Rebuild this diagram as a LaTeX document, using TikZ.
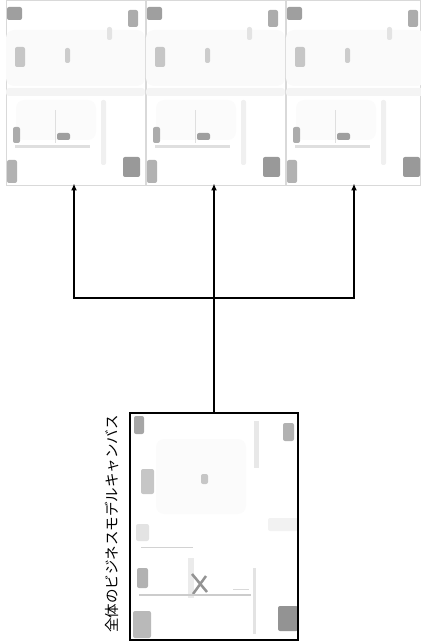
\documentclass[tikz,border=0pt]{standalone}
\usepackage{fontspec}
\newfontfamily\cjk{Noto Sans CJK JP}
\usetikzlibrary{arrows.meta}

\tikzset{
  thumb/.style={draw=gray!30, line width=0.6pt, minimum width=139pt, minimum height=185pt, inner sep=0pt, outer sep=0pt},
  whole/.style={draw=black, line width=2.4pt, minimum width=168pt, minimum height=227pt, inner sep=0pt, outer sep=0pt},
  link/.style={draw=black, line width=2.2pt},
  linkarrow/.style={link, -{Latex[length=7pt,width=6pt]}, shorten >=-1.5pt},
  blot/.style={rounded corners=2pt},
  % one small sheet of the canvas, drawn from its top-left corner
  sheet/.pic={
    \fill[gray!4, rounded corners=8pt] (0,30) rectangle (139,86);
    \fill[gray!9, rounded corners=3pt] (0,88) rectangle (139,96);
    \fill[gray!12, blot] (95,100) rectangle (100,165);
    \fill[gray!3, rounded corners=8pt] (10,100) rectangle (90,140);
    \fill[gray!75, blot] (1,7) rectangle (16,20);
    \fill[gray!65, blot] (122,10) rectangle (132,27);
    \fill[gray!45, blot] (9,47) rectangle (19,67);
    \fill[gray!40, blot] (59,48) rectangle (64,63);
    \fill[gray!22, blot] (101,27) rectangle (106,40);
    \fill[gray!25] (9,145) rectangle (84,148);
    \fill[gray!25] (48.5,110) rectangle (50,143);
    \fill[gray!75, blot] (51,133) rectangle (64,140);
    \fill[gray!65, blot] (7,127) rectangle (14,143);
    \fill[gray!80, blot] (117,157) rectangle (134,177);
    \fill[gray!60, blot] (1,160) rectangle (11,183);
  },
  % the larger sheet of the whole canvas
  bigsheet/.pic={
    \fill[gray!3, rounded corners=8pt] (25,25) rectangle (115,100);
    \fill[gray!70, blot] (3,2) rectangle (13,20);
    \fill[gray!60, blot] (152,9) rectangle (163,27);
    \fill[gray!45, blot] (10,55) rectangle (23,80);
    \fill[gray!45, blot] (70,60) rectangle (77,70);
    \fill[gray!18] (123,7) rectangle (128,54);
    \fill[gray!10, blot] (137,104) rectangle (167,117);
    \fill[gray!22, blot] (5,110) rectangle (18,127);
    \fill[gray!35] (10,132.5) rectangle (62,134);
    \fill[gray!16] (57,144) rectangle (63,184);
    \fill[gray!60, blot] (6,154) rectangle (17,174);
    \draw[gray!85, line width=2.5pt] (61,160) -- (76,178) (75,162) -- (62,180);
    \fill[gray!40] (8,180) rectangle (120,182);
    \fill[gray!30] (102,174.5) rectangle (118,176);
    \fill[gray!22] (122,154) rectangle (125,220);
    \fill[gray!85, blot] (147,192) rectangle (167,217);
    \fill[gray!55, blot] (2,197) rectangle (20,224);
  }
}

\begin{document}
\begin{tikzpicture}[x=1pt, y=-1pt]
  \useasboundingbox (0,0) rectangle (420,644);

  % three sheets along the top
  \node[thumb] (c1) at (75.5,92.5) {};
  \node[thumb] (c2) at (215.5,92.5) {};
  \node[thumb, minimum width=134pt] (c3) at (353,92.5) {};
  \pic at (c1.north west) {sheet};
  \pic at (c2.north west) {sheet};
  \pic at (c3.north west) {sheet};

  % the whole canvas below
  \node[whole] (all) at (214,526.5) {};
  \pic at ([shift={(1,1)}]all.north west) {bigsheet};
  \node[whole, fill=none] at (all.center) {};

  \node[rotate=90, font=\cjk\fontsize{14.5}{16}\selectfont, inner sep=0pt] (title)
    at (112,524) {全体のビジネスモデルキャンバス};

  % connectors from the whole canvas up to each sheet
  \coordinate (fork) at (214,298);
  \draw[link] (all.north) -- (fork);
  \draw[linkarrow] (fork) -| ([xshift=-1.5pt]c1.south);
  \draw[linkarrow] (fork) -- (fork |- c2.south);
  \draw[linkarrow] (fork) -| ([xshift=1pt]c3.south);
\end{tikzpicture}
\end{document}
